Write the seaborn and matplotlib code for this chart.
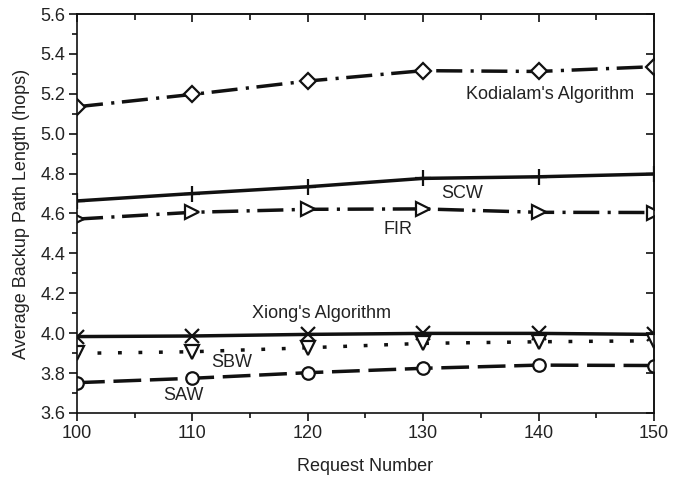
import matplotlib
matplotlib.use("Agg")
import matplotlib.pyplot as plt
from matplotlib.ticker import MultipleLocator, NullFormatter, FormatStrFormatter
import seaborn as sns
import pandas as pd

# Request counts on the x axis
requests = [100, 110, 120, 130, 140, 150]

# Average backup path length (hops) per algorithm
kodialam = [5.135, 5.197, 5.264, 5.316, 5.312, 5.336]
scw = [4.663, 4.700, 4.734, 4.776, 4.784, 4.798]
fir = [4.572, 4.606, 4.621, 4.623, 4.606, 4.605]
xiong = [3.983, 3.986, 3.994, 3.999, 3.999, 3.994]
sbw = [3.899, 3.907, 3.927, 3.949, 3.957, 3.962]
saw = [3.752, 3.774, 3.802, 3.824, 3.840, 3.838]

sns.set_theme(style="white")
plt.rcParams["font.family"] = ["Liberation Sans", "DejaVu Sans"]

fig = plt.figure(figsize=(6.84, 4.78), dpi=100)
ax = fig.add_axes([0.1126, 0.136, 0.8434, 0.8347])

ink = "#111111"
lw = 2.5
series = [
    (kodialam, (0, (7.5, 2.4, 0.9, 2.2)), "D", 8.5),
    (scw, "-", "+", 11),
    (fir, (0, (7.5, 2.4, 0.9, 2.2)), ">", 9.5),
    (xiong, "-", "x", 10),
    (sbw, (0, (1.1, 4.8)), "v", 9.5),
    (saw, (0, (8, 2.5)), "o", 9),
]

for values, ls, mk, ms in series:
    df = pd.DataFrame({"Request Number": requests, "hops": values})
    sns.lineplot(
        data=df, x="Request Number", y="hops", ax=ax,
        color=ink, linewidth=lw, linestyle=ls,
        marker=mk, markersize=ms, markerfacecolor="white",
        markeredgecolor=ink, markeredgewidth=1.6,
    )

ax.set_xlim(100, 150)
ax.set_ylim(3.6, 5.6)
ax.xaxis.set_major_locator(MultipleLocator(10))
ax.xaxis.set_minor_locator(MultipleLocator(5))
ax.yaxis.set_major_locator(MultipleLocator(0.2))
ax.yaxis.set_minor_locator(MultipleLocator(0.1))
ax.yaxis.set_major_formatter(FormatStrFormatter("%.1f"))

ax.tick_params(axis="both", which="both", direction="out", colors=ink,
               labelsize=13, labelcolor="#222222", width=1.2,
               bottom=True, left=True, top=False, right=False)
ax.tick_params(axis="both", which="major", length=5.5, pad=3)
ax.tick_params(axis="both", which="minor", length=3.5)

for sp in ax.spines.values():
    sp.set_color(ink)
    sp.set_linewidth(1.2)

# Mirrored ticks on the top and right edges, pointing inward
top = ax.secondary_xaxis("top")
top.xaxis.set_major_locator(MultipleLocator(10))
top.xaxis.set_minor_locator(MultipleLocator(5))
top.xaxis.set_major_formatter(NullFormatter())
top.tick_params(which="both", direction="in", colors=ink, width=1.2)
top.tick_params(which="major", length=5.5)
top.tick_params(which="minor", length=4)
top.spines["top"].set_linewidth(1.2)

right = ax.secondary_yaxis("right")
right.yaxis.set_major_locator(MultipleLocator(0.2))
right.yaxis.set_minor_locator(MultipleLocator(0.1))
right.yaxis.set_major_formatter(NullFormatter())
right.tick_params(which="both", direction="in", colors=ink, width=1.2)
right.tick_params(which="major", length=5.5)
right.tick_params(which="minor", length=0)
right.spines["right"].set_linewidth(1.2)

ax.set_xlabel("Request Number", fontsize=13, color="#222222", labelpad=12)
ax.set_ylabel("Average Backup Path Length (hops)", fontsize=13,
              color="#222222", labelpad=7)

txt = dict(fontsize=13, color="#222222", ha="center", va="center")
ax.text(141.0, 5.194, "Kodialam's Algorithm", **txt)
ax.text(133.4, 4.698, "SCW", **txt)
ax.text(127.8, 4.522, "FIR", **txt)
ax.text(121.2, 4.100, "Xiong's Algorithm", **txt)
ax.text(113.4, 3.851, "SBW", **txt)
ax.text(109.2, 3.690, "SAW", **txt)

fig.savefig("out.png", dpi=100)
